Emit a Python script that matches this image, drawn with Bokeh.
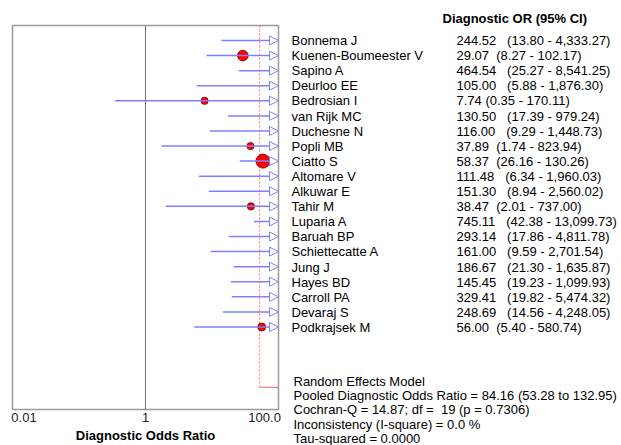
import numpy as np
from bokeh.plotting import figure
from bokeh.models import Range1d, Arrow, NormalHead, ColumnDataSource, FixedTicker
from bokeh.layouts import row
from bokeh.embed import file_html
from bokeh.resources import INLINE
from bokeh.core.properties import value

# ---------------- data ----------------
studies = ["Bonnema J", "Kuenen-Boumeester V", "Sapino A", "Deurloo EE", "Bedrosian I",
           "van Rijk MC", "Duchesne N", "Popli MB", "Ciatto S", "Altomare V",
           "Alkuwar E", "Tahir M", "Luparia A", "Baruah BP", "Schiettecatte A",
           "Jung J", "Hayes BD", "Carroll PA", "Devaraj S", "Podkrajsek M"]
dor = [244.52, 29.07, 464.54, 105.00, 7.74, 130.50, 116.00, 37.89, 58.37, 111.48,
       151.30, 38.47, 745.11, 293.14, 161.00, 186.67, 145.45, 329.41, 248.69, 56.00]
ci_low = [13.80, 8.27, 25.27, 5.88, 0.35, 17.39, 9.29, 1.74, 26.16, 6.34,
          8.94, 2.01, 42.38, 17.86, 9.59, 21.30, 19.23, 19.82, 14.56, 5.40]
ci_high = [4333.27, 102.17, 8541.25, 1876.30, 170.11, 979.24, 1448.73, 823.94, 130.26, 1960.03,
           2560.02, 737.00, 13099.73, 4811.78, 2701.54, 1635.87, 1099.93, 5474.32, 4248.05, 580.74]
pooled_line_or = 52.0
axis_ticks = [0.01, 1, 100]
axis_tick_labels = ["0.01", "1", "100.0"]
header = "Diagnostic OR (95% CI)"
axis_title = "Diagnostic Odds Ratio"
summary = ["Random Effects Model",
           "Pooled Diagnostic Odds Ratio = 84.16 (53.28 to 132.95)",
           "Cochran-Q = 14.87; df =\u00a0\u00a019 (p = 0.7306)",
           "Inconsistency (I-square) = 0.0 %",
           "Tau-squared = 0.0000"]

# ---------------- layout helpers ----------------
FONT_NAME = "Liberation Sans"
FONT = value(FONT_NAME)
NB = "\u00a0"
ROW0, ROWH = 40.0, 15.1          # page y of first row, row pitch (px)
def row_of(py):
    return (py - ROW0) / ROWH

n = len(studies)
idx = np.arange(n)
xmin, xmax = axis_ticks[0], axis_ticks[-1]
low = np.array(ci_low); high = np.array(ci_high); est = np.array(dor)
pooled_row = n + 3

# marker size from inverse-variance weight
se = (np.log(high) - np.log(low)) / (2 * 1.96)
w = 1.0 / se**2
diam = 4.8 + 3.8 * np.sqrt(w)

H = 445
FRAME_TOP, FRAME_BOT = 25, 416
FRAME_BOT_RENDERED = 409.5   # the axis below takes a few px more than the border
p = figure(width=284, height=H, x_axis_type="log", title=None,
           x_range=Range1d(xmin, xmax),
           y_range=Range1d(row_of(FRAME_BOT_RENDERED), row_of(FRAME_TOP)),
           output_backend="svg", toolbar_location=None,
           min_border_left=12, min_border_right=6, min_border_top=FRAME_TOP,
           min_border_bottom=H - FRAME_BOT, y_axis_location=None)
p.frame_align = False
p.background_fill_color = "white"
p.border_fill_color = "white"
p.outline_line_color = "#9a9a9a"
p.outline_line_width = 1.5
p.ygrid.visible = False
p.xgrid.ticker = FixedTicker(ticks=[1])
p.xgrid.grid_line_color = "#6e6e6e"
p.xgrid.grid_line_width = 1

# axis: outer labels padded with invisible spaces; Bokeh keeps them inside the canvas,
# which puts the first at the frame's left edge and the last at its right edge
overrides = {t: l for t, l in zip(axis_ticks, axis_tick_labels)}
overrides[axis_ticks[0]] = NB * 3 + axis_tick_labels[0]
overrides[axis_ticks[-1]] = axis_tick_labels[-1] + NB
ax = p.xaxis[0]
ax.ticker = FixedTicker(ticks=axis_ticks)
ax.major_label_overrides = overrides
ax.major_label_text_font = FONT_NAME
ax.major_label_text_font_size = "13px"
ax.major_label_text_color = "#222222"
ax.major_label_standoff = 0
ax.major_tick_out = 0
ax.major_tick_in = 0
ax.minor_tick_out = 0
ax.minor_tick_in = 0
ax.major_tick_line_color = None
ax.minor_tick_line_color = None
ax.axis_line_color = None
ax.axis_label = axis_title
ax.axis_label_text_font = FONT_NAME
ax.axis_label_text_font_size = "13px"
ax.axis_label_text_font_style = "bold"
ax.axis_label_text_color = "black"
ax.axis_label_standoff = 0

# pooled reference line
p.segment(x0=[pooled_line_or], y0=[row_of(FRAME_TOP)], x1=[pooled_line_or], y1=[pooled_row],
          line_color="#ff7070", line_width=1, line_dash="2 2")
p.segment(x0=[pooled_line_or], y0=[pooled_row], x1=[xmax], y1=[pooled_row],
          line_color="#ff6060", line_width=1)

# point estimates (only those on scale)
on = est <= xmax
p.scatter(x=est[on], y=idx[on], size=diam[on], marker="circle",
          fill_color="#ff0000", line_color="#7a0000", line_width=0.8)

# CI lines
clipped = high > xmax
seg = ~clipped
if seg.any():
    p.segment(x0=low[seg], y0=idx[seg], x1=high[seg], y1=idx[seg],
              line_color="#8080ff", line_width=1.5)
src = ColumnDataSource(dict(x0=low[clipped], y=idx[clipped],
                            x1=np.full(clipped.sum(), xmax)))
p.add_layout(Arrow(end=NormalHead(size=9, fill_color="white", line_color="#8080ff", line_width=1),
                   x_start="x0", y_start="y", x_end="x1", y_end="y", source=src,
                   line_color="#8080ff", line_width=1.5))

# ---------------- right text panel ----------------
q = figure(width=621 - 284, height=H, title=None, x_range=Range1d(284, 621),
           y_range=Range1d(row_of(H), row_of(0)),
           output_backend="svg", toolbar_location=None, min_border=0,
           x_axis_location=None, y_axis_location=None)
q.frame_align = False
q.outline_line_color = None
q.grid.visible = False
q.background_fill_color = "white"
q.border_fill_color = "white"

vals = []
for d, lo, hi in zip(dor, ci_low, ci_high):
    vs = f"{d:.2f}"
    vals.append(vs + NB * max(1, len(vs) - 3) + f"({lo:,.2f} - {hi:,.2f})")

q.text(x=[291] * n, y=idx, text=studies, text_font=FONT, text_font_size="13px",
       text_baseline="middle", text_color="black")
q.text(x=[456] * n, y=idx, text=vals, text_font=FONT, text_font_size="13px",
       text_baseline="middle", text_color="black")
q.text(x=[442], y=[row_of(18)], text=[header], text_font=FONT, text_font_size="13px",
       text_font_style="bold", text_baseline="middle", text_color="black")
sum_y = [row_of(v) for v in (381, 395, 409, 423.5, 437.5)]
q.text(x=[293] * len(summary), y=sum_y, text=summary, text_font=FONT, text_font_size="13px",
       text_baseline="middle", text_color="black")

layout = row(p, q)
open("out.html", "w").write(file_html(layout, INLINE))
